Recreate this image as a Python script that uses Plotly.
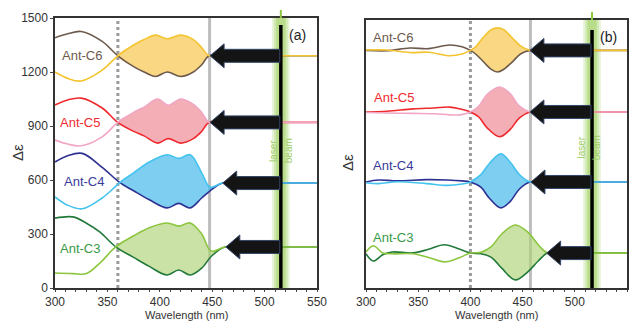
import plotly.graph_objects as go

# ---------------- DATA ----------------
# Left panel (a)
L_C6_wl = [300, 312, 325, 345, 360, 375, 385, 396, 407, 420, 432, 440, 447, 470, 550]
L_C6_brown = [1390, 1412, 1425, 1370, 1290, 1230, 1200, 1175, 1200, 1175, 1200, 1240, 1290, 1290, 1290]
L_C6_yellow = [1200, 1165, 1150, 1210, 1290, 1350, 1380, 1405, 1385, 1405, 1380, 1335, 1290, 1290, 1290]

L_C5_wl = [300, 312, 325, 345, 360, 375, 385, 398, 408, 420, 432, 440, 447, 470, 550]
L_C5_red = [1017, 1045, 1055, 1000, 920, 870, 845, 805, 830, 805, 830, 870, 920, 920, 920]
L_C5_pink = [822, 800, 790, 840, 920, 975, 1005, 1050, 1015, 1050, 1020, 975, 920, 920, 920]

L_C4_wl = [300, 312, 326, 345, 362, 375, 390, 407, 418, 429, 440, 448, 460, 490, 550]
L_C4_navy = [700, 735, 748, 670, 585, 540, 490, 445, 470, 445, 500, 540, 583, 583, 583]
L_C4_lblue = [506, 460, 440, 500, 585, 640, 700, 740, 720, 740, 640, 560, 583, 583, 583]

L_C3_wl = [300, 317, 330, 343, 358, 375, 390, 407, 418, 429, 440, 449, 462, 490, 550]
L_C3_dgreen = [388, 395, 360, 310, 228, 170, 120, 72, 100, 72, 110, 175, 228, 228, 228]
L_C3_lgreen = [83, 80, 80, 140, 228, 290, 335, 361, 344, 361, 300, 205, 228, 228, 228]

# Right panel (b)
R_C6_wl = [300, 320, 342, 360, 380, 392, 400, 405, 412, 420, 426, 432, 440, 448, 457, 480, 550]
R_C6_brown = [1320, 1318, 1333, 1330, 1350, 1340, 1320, 1300, 1260, 1215, 1200, 1215, 1255, 1300, 1320, 1320, 1320]
R_C6_yellow = [1322, 1322, 1308, 1310, 1290, 1300, 1320, 1340, 1390, 1435, 1445, 1435, 1390, 1345, 1320, 1320, 1320]

R_C5_wl = [300, 320, 345, 365, 380, 390, 400, 408, 416, 428, 438, 447, 457, 480, 550]
R_C5_red = [978, 982, 995, 1000, 1005, 995, 978, 950, 890, 840, 880, 945, 978, 978, 978]
R_C5_pink = [975, 972, 970, 968, 962, 962, 978, 1010, 1075, 1117, 1080, 1010, 978, 978, 978]

R_C4_wl = [300, 312, 330, 358, 378, 392, 400, 410, 418, 429, 438, 447, 457, 480, 550]
R_C4_navy = [589, 600, 595, 602, 600, 595, 589, 560, 500, 445, 480, 550, 589, 589, 589]
R_C4_lblue = [585, 580, 590, 580, 570, 578, 589, 630, 690, 745, 700, 630, 589, 589, 589]

R_C3_wl = [300, 307, 316, 325, 345, 360, 375, 390, 400, 410, 420, 430, 443, 455, 465, 474, 500, 550]
R_C3_dgreen = [190, 150, 185, 200, 195, 215, 240, 215, 194, 190, 170, 110, 45, 90, 150, 194, 194, 194]
R_C3_lgreen = [200, 235, 195, 190, 190, 170, 145, 170, 194, 198, 230, 300, 350, 310, 240, 194, 194, 194]

names = ["Ant-C6", "Ant-C5", "Ant-C4", "Ant-C3"]
L_baselines = [1290, 920, 583, 228]
R_baselines = [1320, 978, 589, 194]
L_fill_ranges = [(360, 447), (360, 447), (362, 460), (358, 462)]
R_fill_ranges = [(400, 457), (400, 457), (400, 457), (400, 474)]
L_arrow_tips = [448, 448, 460, 463]
R_arrow_tips = [457, 457, 458, 473]
L_laser = 515.5
R_laser = 516.5
L_dotted, L_solid = 360, 447.5
R_dotted, R_solid = 400, 457.5

x_ticks = [300, 350, 400, 450, 500, 550]
y_ticks = [0, 300, 600, 900, 1200, 1500]

# ---------------- STYLE ----------------
col_pairs = [("#6d5a4d", "#f4c430", "rgba(249,206,100,0.80)"),
             ("#ee2a2e", "#f0a6c4", "rgba(240,140,150,0.70)"),
             ("#2e3192", "#45c3ef", "rgba(70,185,235,0.70)"),
             ("#237a3b", "#8cc63f", "rgba(175,210,120,0.65)")]
label_cols = ["#6d5a4d", "#ee2a2e", "#3a3a9a", "#3a9a47"]

left = [(L_C6_wl, L_C6_brown, L_C6_yellow), (L_C5_wl, L_C5_red, L_C5_pink),
        (L_C4_wl, L_C4_navy, L_C4_lblue), (L_C3_wl, L_C3_dgreen, L_C3_lgreen)]
right = [(R_C6_wl, R_C6_brown, R_C6_yellow), (R_C5_wl, R_C5_red, R_C5_pink),
         (R_C4_wl, R_C4_navy, R_C4_lblue), (R_C3_wl, R_C3_dgreen, R_C3_lgreen)]

W, H = 636, 321
fig = go.Figure()

def add_panel(data, ranges, xa, ya):
    for (wl, a, b), (lo, hi), (ca, cb, cf) in zip(data, ranges, col_pairs):
        idx = [i for i, w in enumerate(wl) if lo <= w <= hi]
        fx = [wl[i] for i in idx] + [wl[i] for i in reversed(idx)]
        fy = [a[i] for i in idx] + [b[i] for i in reversed(idx)]
        fig.add_trace(go.Scatter(x=fx, y=fy, fill="toself", fillcolor=cf, mode="lines",
                                 line=dict(width=0, shape="spline"), xaxis=xa, yaxis=ya,
                                 hoverinfo="skip", showlegend=False))
        fig.add_trace(go.Scatter(x=wl, y=a, mode="lines", line=dict(color=ca, width=1.6, shape="spline"),
                                 xaxis=xa, yaxis=ya, showlegend=False))
        fig.add_trace(go.Scatter(x=wl, y=b, mode="lines", line=dict(color=cb, width=1.6, shape="spline"),
                                 xaxis=xa, yaxis=ya, showlegend=False))

add_panel(left, L_fill_ranges, "x", "y")
add_panel(right, R_fill_ranges, "x2", "y2")

shapes = []
Lx_px = (317 - 55) / 250.0
Rx_px = (627 - 366) / 250.0
y_px = 270 / 1500.0

def arrows(tips, bases, laser, xr, yr, xpx):
    for t, b in zip(tips, bases):
        L = 14 / xpx
        S = 6.5 / y_px
        Hh = 12 / y_px
        tail = laser - 1
        p = (f"M {t},{b} L {t+L},{b+Hh} L {t+L},{b+S} L {tail},{b+S} L {tail},{b-S} "
             f"L {t+L},{b-S} L {t+L},{b-Hh} Z")
        shapes.append(dict(type="path", path=p, xref=xr, yref=yr, fillcolor="#141414",
                           line=dict(color="#34466a", width=1), layer="above"))

def vlines(dotted, solid, xr, yr):
    shapes.append(dict(type="line", x0=dotted, x1=dotted, y0=0, y1=1, xref=xr, yref=yr + " domain",
                       line=dict(color="#9a9a9a", width=3, dash="dot"), layer="below"))
    shapes.append(dict(type="line", x0=solid, x1=solid, y0=0, y1=1, xref=xr, yref=yr + " domain",
                       line=dict(color="#bdbdbd", width=3), layer="below"))

def laser(lx, xr, yr, top):
    for hw, op in [(8.5, 0.2), (6.5, 0.25), (4.5, 0.35)]:
        shapes.append(dict(type="rect", x0=lx - hw, x1=lx + hw, y0=0, y1=1, xref=xr, yref=yr + " domain",
                           fillcolor=f"rgba(140,198,63,{op})", line=dict(width=0), layer="below"))
    shapes.append(dict(type="line", x0=lx, x1=lx, y0=1, y1=1.03, xref=xr, yref=yr + " domain",
                       line=dict(color="#8cc63f", width=2)))
    shapes.append(dict(type="line", x0=lx, x1=lx, y0=0, y1=top, xref=xr, yref=yr,
                       line=dict(color="#000000", width=3.5), layer="above"))

vlines(L_dotted, L_solid, "x", "y")
vlines(R_dotted, R_solid, "x2", "y2")
laser(L_laser, "x", "y", 1461)
laser(R_laser, "x2", "y2", 1433)
arrows(L_arrow_tips, L_baselines, L_laser, "x", "y", Lx_px)
arrows(R_arrow_tips, R_baselines, R_laser, "x2", "y2", Rx_px)

ann = []
L_lab_pos = [(304.5, 1294), (303, 917), (307, 589), (303, 222)]
R_lab_pos = [(304.5, 1394), (305.5, 1061), (304.5, 683), (304.5, 283)]
for n, c, (x, y) in zip(names, label_cols, L_lab_pos):
    ann.append(dict(text=n, x=x, y=y, xref="x", yref="y", xanchor="left", yanchor="middle",
                    showarrow=False, font=dict(color=c, size=13)))
for n, c, (x, y) in zip(names, label_cols, R_lab_pos):
    ann.append(dict(text=n, x=x, y=y, xref="x2", yref="y2", xanchor="left", yanchor="middle",
                    showarrow=False, font=dict(color=c, size=13)))
mid = dict(xanchor="center", yanchor="middle", showarrow=False)
ann += [
    dict(text="(a)", x=531, y=1406, xref="x", yref="y", font=dict(size=14, color="#222"), **mid),
    dict(text="(b)", x=532, y=1394, xref="x2", yref="y2", font=dict(size=14, color="#222"), **mid),
    dict(text="laser", x=508, y=761, xref="x", yref="y", textangle=-90, font=dict(size=10, color="#9ccc65"), **mid),
    dict(text="beam", x=522.5, y=761, xref="x", yref="y", textangle=-90, font=dict(size=10, color="#9ccc65"), **mid),
    dict(text="laser", x=506.5, y=778, xref="x2", yref="y2", textangle=-90, font=dict(size=10, color="#9ccc65"), **mid),
    dict(text="beam", x=521.5, y=778, xref="x2", yref="y2", textangle=-90, font=dict(size=10, color="#9ccc65"), **mid),
    dict(text="Wavelength (nm)", x=186 / W, y=-0.006, xref="paper", yref="paper", xanchor="center",
         yanchor="bottom", showarrow=False, font=dict(size=11, color="#333")),
    dict(text="Wavelength (nm)", x=496 / W, y=-0.006, xref="paper", yref="paper", xanchor="center",
         yanchor="bottom", showarrow=False, font=dict(size=11, color="#333")),
    dict(text="Δε", x=18 / W, y=1 - 153 / H, xref="paper", yref="paper", textangle=-90,
         font=dict(size=15, color="#333"), **mid),
    dict(text="Δε", x=348 / W, y=1 - 163 / H, xref="paper", yref="paper", textangle=-90,
         font=dict(size=15, color="#333"), **mid),
]

axis_common = dict(showline=True, linecolor="#333", linewidth=1.5, mirror=True, showgrid=False,
                   zeroline=False, automargin=False, tickfont=dict(size=12, color="#333"))
fig.update_layout(
    width=W, height=H, margin=dict(l=0, r=0, t=0, b=0),
    paper_bgcolor="white", plot_bgcolor="white",
    font=dict(family="Liberation Sans, Arial, sans-serif", color="#333", size=12),
    shapes=shapes, annotations=ann, showlegend=False,
    xaxis=dict(domain=[55 / W, 317 / W], range=[300, 550], tickvals=x_ticks, ticks="outside", ticklen=2,
               minor=dict(dtick=10, ticks="outside", ticklen=2), anchor="y", **axis_common),
    yaxis=dict(domain=[1 - 288 / H, 1 - 18 / H], range=[0, 1500], tickvals=y_ticks, ticks="outside",
               ticklen=3, anchor="x", **axis_common),
    xaxis2=dict(domain=[366 / W, 627 / W], range=[300, 550], tickvals=x_ticks, ticks="outside", ticklen=2,
                minor=dict(dtick=10, ticks="outside", ticklen=2), anchor="y2", **axis_common),
    yaxis2=dict(domain=[1 - 288 / H, 1 - 20 / H], range=[0, 1500 * 268 / 270], showticklabels=False,
                ticks="", anchor="x2", **axis_common),
)

fig.write_html("out.html")
